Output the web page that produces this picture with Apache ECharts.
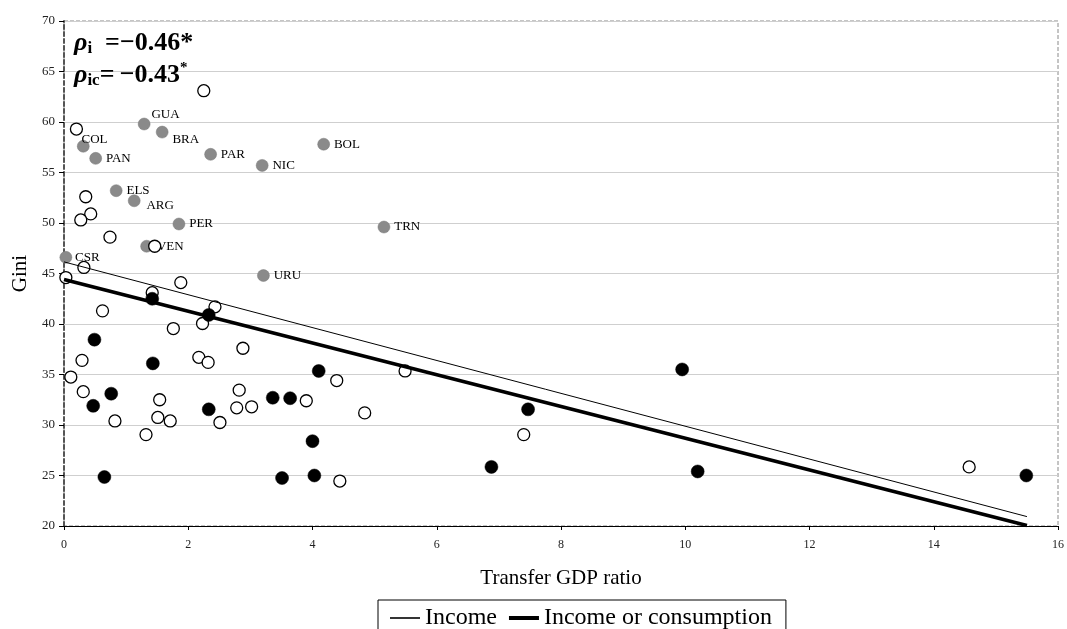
<!DOCTYPE html>
<html>
<head>
<meta charset="utf-8">
<script src="https://cdn.jsdelivr.net/npm/echarts@6/dist/echarts.min.js"></script>
<style>
html,body{margin:0;padding:0;background:#fff;}
#chart{width:1067px;height:629px;}
</style>
</head>
<body>
<div id="chart"></div>
<script>
// ---- data ----
const xTicks = [0, 2, 4, 6, 8, 10, 12, 14, 16];
const yTicks = [20, 25, 30, 35, 40, 45, 50, 55, 60, 65, 70];

// Income (open circles)
const incomeX = [2.25, 0.20, 0.35, 0.43, 0.27, 0.74, 1.46, 0.32, 0.03, 1.88, 1.42, 2.43, 0.62, 2.23, 1.76, 2.88, 2.17, 0.29, 2.32, 0.11, 4.39, 5.49, 2.82, 0.31, 1.54, 3.90, 3.02, 2.78, 4.84, 1.51, 0.82, 1.71, 2.51, 1.32, 7.40, 14.57, 4.44];
const incomeY = [63.1, 59.3, 52.6, 50.9, 50.3, 48.6, 47.7, 45.6, 44.6, 44.1, 43.1, 41.7, 41.3, 40.05, 39.55, 37.6, 36.7, 36.4, 36.2, 34.75, 34.4, 35.35, 33.45, 33.3, 32.5, 32.4, 31.8, 31.7, 31.2, 30.75, 30.4, 30.4, 30.25, 29.05, 29.05, 25.85, 24.45];

// Income or consumption (black dots)
const consX = [1.42, 2.33, 0.49, 1.43, 4.10, 9.95, 0.76, 3.36, 3.64, 0.47, 2.33, 7.47, 4.00, 6.88, 10.20, 4.03, 15.49, 0.65, 3.51];
const consY = [42.5, 40.9, 38.45, 36.1, 35.35, 35.5, 33.1, 32.7, 32.65, 31.9, 31.55, 31.55, 28.4, 25.85, 25.4, 25.0, 25.0, 24.85, 24.75];

// Labelled countries (grey dots)
const countryNames = ['GUA', 'BRA', 'COL', 'PAN', 'PAR', 'NIC', 'BOL', 'ELS', 'ARG', 'PER', 'TRN', 'VEN', 'CSR', 'URU'];
const countryX = [1.29, 1.58, 0.31, 0.51, 2.36, 3.19, 4.18, 0.84, 1.13, 1.85, 5.15, 1.33, 0.03, 3.21];
const countryY = [59.8, 59.0, 57.6, 56.4, 56.8, 55.7, 57.8, 53.2, 52.2, 49.9, 49.6, 47.7, 46.6, 44.8];

// Trend lines (end points)
const incomeTrendX = [0, 15.5];
const incomeTrendY = [46.15, 20.93];
const consTrendX = [0, 15.5];
const consTrendY = [44.4, 20.05];

const legendNames = ['Income', 'Income or consumption'];

// ---- styling (not data) ----
const FONT = '"Liberation Serif", "DejaVu Serif", serif';
const labelOffsets = {
  GUA: [-3, -9], BRA: [0, 7], COL: [-12, -7], ARG: [2, 5], CSR: [-1, 0]
};

function pairs(xs, ys) { return xs.map((x, i) => [x, ys[i]]); }

const chart = echarts.init(document.getElementById('chart'), null, {renderer: 'canvas'});

const option = {
  animation: false,
  backgroundColor: '#fff',
  textStyle: {fontFamily: FONT},
  grid: {
    left: 64, right: 7, top: 21, bottom: 103,
    show: true, borderColor: '#8a8a8a', borderWidth: 1, borderType: 'dashed'
  },
  xAxis: {
    type: 'value', min: xTicks[0], max: xTicks[xTicks.length - 1], interval: 2,
    name: 'Transfer GDP ratio', nameLocation: 'middle', nameGap: 42,
    nameTextStyle: {fontFamily: FONT, fontSize: 21, color: '#000'},
    axisLine: {show: true, lineStyle: {color: '#000', width: 1}},
    axisTick: {show: true, length: 4, lineStyle: {color: '#000'}},
    splitLine: {show: false},
    axisLabel: {fontFamily: FONT, fontSize: 12, color: '#222', margin: 13}
  },
  yAxis: {
    type: 'value', min: yTicks[0], max: yTicks[yTicks.length - 1], interval: 5,
    name: 'Gini', nameLocation: 'middle', nameGap: 29,
    nameTextStyle: {fontFamily: FONT, fontSize: 21, color: '#000'},
    axisLine: {show: true, lineStyle: {color: '#555', width: 2, type: [4, 3]}},
    axisTick: {show: true, length: 5, lineStyle: {color: '#000'}},
    splitLine: {show: true, lineStyle: {color: '#cfcfcf', width: 1}},
    axisLabel: {fontFamily: FONT, fontSize: 13, color: '#222', margin: 9}
  },
  legend: {
    data: [
      {name: legendNames[0], icon: 'path://M0,0L30,0L30,1.6L0,1.6Z'},
      {name: legendNames[1], icon: 'path://M0,0L30,0L30,4L0,4Z'}
    ],
    left: 378, top: 600,
    orient: 'horizontal',
    borderColor: '#000', borderWidth: 1, borderRadius: 0,
    padding: [6, 14, 30, 12],
    itemWidth: 30, itemHeight: 14, itemGap: 12,
    symbolKeepAspect: true,
    itemStyle: {color: '#000', borderWidth: 0},
    textStyle: {fontFamily: FONT, fontSize: 24, color: '#000'},
    selectedMode: false
  },
  series: [
    {
      name: 'countries', type: 'scatter', symbol: 'circle', symbolSize: 12,
      itemStyle: {color: '#8a8a8a', borderColor: '#7a7a7a', borderWidth: 0.5, opacity: 1},
      data: countryNames.map((n, i) => ({
        name: n, value: [countryX[i], countryY[i]],
        label: {offset: labelOffsets[n] || [0, 0]}
      })),
      label: {
        show: true, position: 'right', distance: 4, formatter: '{b}',
        fontFamily: FONT, fontSize: 13, color: '#000'
      },
      z: 2
    },
    {
      name: 'incomeOnly', type: 'scatter', symbol: 'circle', symbolSize: 12,
      itemStyle: {color: '#fff', borderColor: '#000', borderWidth: 1.3, opacity: 1},
      data: pairs(incomeX, incomeY), z: 3
    },
    {
      name: 'incomeCons', type: 'scatter', symbol: 'circle', symbolSize: 13,
      itemStyle: {color: '#000', borderColor: '#000', borderWidth: 0.5, opacity: 1},
      data: pairs(consX, consY), z: 4
    },
    {
      name: legendNames[0], type: 'line', symbol: 'none', showSymbol: false,
      lineStyle: {color: '#000', width: 1}, itemStyle: {color: '#000'},
      data: pairs(incomeTrendX, incomeTrendY), z: 5
    },
    {
      name: legendNames[1], type: 'line', symbol: 'none', showSymbol: false,
      lineStyle: {color: '#000', width: 3.5}, itemStyle: {color: '#000'},
      data: pairs(consTrendX, consTrendY), z: 5
    }
  ],
  graphic: [
    {
      type: 'text', x: 74, y: 43, z: 10,
      style: {
        text: '{r|ρ}{s|i}{m|  =−0.46*}',
        verticalAlign: 'middle',
        rich: {
          r: {fontFamily: FONT, fontSize: 26, fontWeight: 'bold', fontStyle: 'italic', fill: '#000', lineHeight: 28},
          s: {fontFamily: FONT, fontSize: 17, fontWeight: 'bold', fill: '#000', verticalAlign: 'bottom', lineHeight: 12},
          m: {fontFamily: FONT, fontSize: 26, fontWeight: 'bold', fill: '#000', lineHeight: 28}
        }
      }
    },
    {
      type: 'text', x: 74, y: 75, z: 10,
      style: {
        text: '{r|ρ}{s|ic}{m|=\u2009−0.43}{p|*}',
        verticalAlign: 'middle',
        rich: {
          r: {fontFamily: FONT, fontSize: 26, fontWeight: 'bold', fontStyle: 'italic', fill: '#000', lineHeight: 28},
          s: {fontFamily: FONT, fontSize: 17, fontWeight: 'bold', fill: '#000', verticalAlign: 'bottom', lineHeight: 6},
          m: {fontFamily: FONT, fontSize: 26, fontWeight: 'bold', fill: '#000', lineHeight: 28},
          p: {fontFamily: FONT, fontSize: 15, fontWeight: 'bold', fill: '#000', verticalAlign: 'top', lineHeight: 14}
        }
      }
    }
  ]
};
chart.setOption(option);
</script>
</body>
</html>
